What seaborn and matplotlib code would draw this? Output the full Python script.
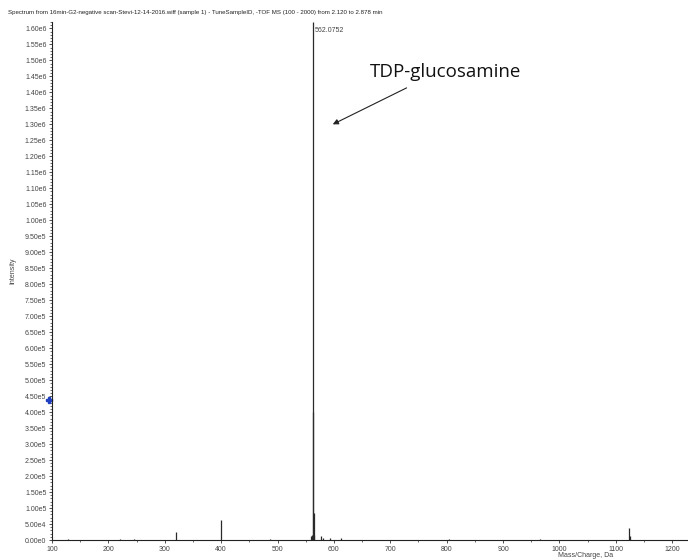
import pandas as pd
import seaborn as sns
import matplotlib.pyplot as plt
from matplotlib.ticker import MultipleLocator, FuncFormatter

# Peak list (m/z, intensity in counts)
mz = [128.0, 220.0, 245.0, 320.0, 400.0, 487.0, 559.0, 560.5, 562.0752, 563.08, 564.08,
      565.1, 578.0, 580.0, 594.0, 612.0, 804.0, 965.0, 1124.0, 1125.0, 1126.0]
intensity = [3.0e3, 4.0e3, 2.0e3, 2.5e4, 6.2e4, 2.0e3, 1.2e4, 1.5e4, 1.62e6, 4.0e5, 8.4e4,
             1.5e4, 1.2e4, 6.0e3, 5.0e3, 6.0e3, 3.0e3, 4.0e3, 3.7e4, 1.2e4, 4.0e3]

base_peak_mz = 562.0752
base_peak_label = "562.0752"
title = "Spectrum from 16min-G2-negative scan-Stevi-12-14-2016.wiff (sample 1) - TuneSampleID, -TOF MS (100 - 2000) from 2.120 to 2.878 min"

df = pd.DataFrame({"mz": mz, "intensity": intensity})

sns.set_style("ticks")
plt.rcParams['font.family'] = ['Liberation Sans', 'DejaVu Sans']

fig = plt.figure(figsize=(6.88, 5.6), dpi=100)
ax = fig.add_axes([0.0756, 0.0357, 0.93, 0.925])

ax.vlines(df["mz"], 0, df["intensity"], color="#2a2a2a", linewidth=0.9)

ax.set_xlim(100, 1235)
ax.set_ylim(0, 1.62e6)

def sci_fmt(v, pos):
    if v == 0:
        return "0.00e0"
    s = f"{v:.2e}"
    m, e = s.split("e")
    return f"{m}e{int(e)}"

ax.yaxis.set_major_locator(MultipleLocator(5e4))
ax.yaxis.set_minor_locator(MultipleLocator(1e4))
ax.yaxis.set_major_formatter(FuncFormatter(sci_fmt))
ax.xaxis.set_major_locator(MultipleLocator(100))
ax.xaxis.set_minor_locator(MultipleLocator(50))

ax.tick_params(axis="both", which="major", labelsize=5, length=2.5, width=0.6,
               colors="#333333", labelcolor="#444444", pad=1.5)
ax.tick_params(axis="both", which="minor", length=1.5, width=0.5, colors="#333333")

for side in ["top", "right"]:
    ax.spines[side].set_visible(False)
for side in ["left", "bottom"]:
    ax.spines[side].set_linewidth(0.8)
    ax.spines[side].set_color("#222222")

ax.set_ylabel("Intensity", fontsize=5, color="#444444")
ax.yaxis.set_label_coords(-0.055, 0.52)
ax.set_xlabel("Mass/Charge, Da", fontsize=5, color="#444444", va="center")
ax.xaxis.set_label_coords(0.834, -0.030)

fig.text(0.012, 0.977, title, fontsize=4.4, color="#222222", ha="left", va="center")

ax.text(base_peak_mz + 4, 1.593e6, base_peak_label, fontsize=5, color="#444444",
        ha="left", va="center")

# blue cursor marker on the y axis
ax.plot([94], [4.38e5], marker="P", color="#1f3fbf", markersize=5, clip_on=False)

ax.text(664, 1.464e6, "TDP-glucosamine", fontsize=13.5,
        family=["Open Sans", "DejaVu Sans"], color="#111111", ha="left", va="center")
ax.annotate("", xy=(598, 1.30e6), xytext=(729, 1.414e6),
            arrowprops=dict(arrowstyle="-|>", color="#222222", lw=0.8,
                            mutation_scale=8, shrinkA=0, shrinkB=0))

fig.savefig("out.png", dpi=100)
